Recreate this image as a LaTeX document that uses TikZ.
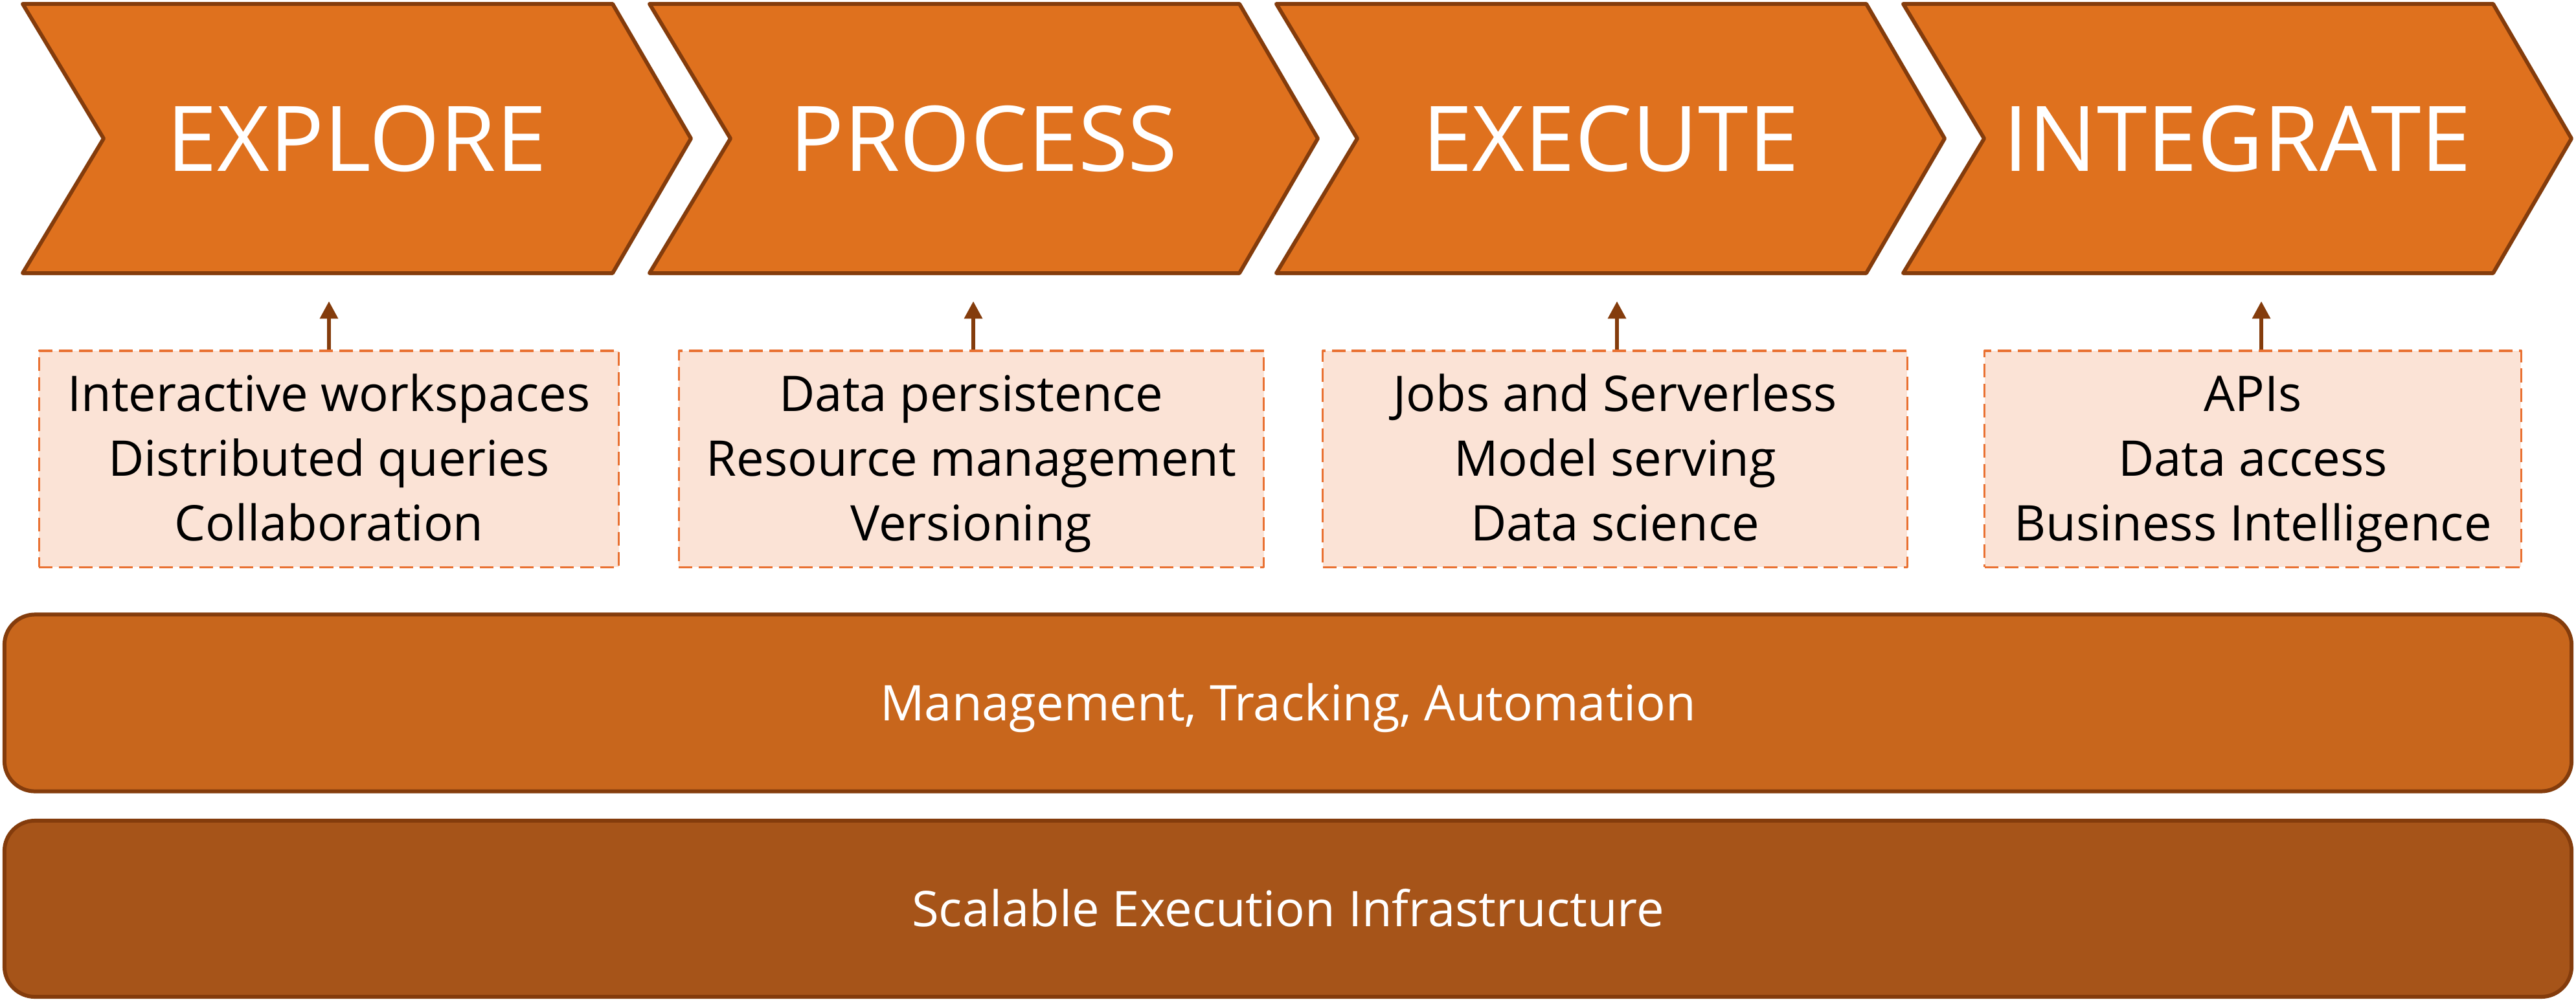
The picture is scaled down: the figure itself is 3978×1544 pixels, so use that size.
\documentclass[tikz,border=0pt]{standalone}
\usepackage{fontspec}
\setmainfont{Open Sans}
\usetikzlibrary{arrows.meta}
\definecolor{chevfill}{HTML}{DF711E}
\definecolor{darkline}{HTML}{843C0C}
\definecolor{barone}{HTML}{C8661C}
\definecolor{bartwo}{HTML}{A65419}
\definecolor{featfill}{HTML}{FBE3D6}
\definecolor{featline}{HTML}{E97132}
\begin{document}
\begin{tikzpicture}[x=0.01cm,y=-0.01cm,line join=round,>={Triangle[length=0.27cm,width=0.27cm]}]
            \tikzset{title style/.style={text=white,font=\fontsize{39.8}{46}\selectfont},
                feature/.style={draw=featline,fill=featfill,line width=0.9pt,dash pattern=on 6pt off 2.8pt,
                    minimum height=3.34cm,align=center,inner sep=0pt,font=\fontsize{21.6}{28.45}\selectfont},
                layer/.style={draw=darkline,line width=1.7pt,rounded corners=0.47cm,minimum width=39.62cm,
                    text=white,text height=15.4pt,text depth=0pt,font=\fontsize{21.6}{26}\selectfont}}
            %% chevron dimensions
            \def \pitch{968}
            \def \body{911}
            \def \tip{121}
            \def \ls{\rule[-6.2pt]{0pt}{27.2pt}}
            \useasboundingbox (0,0) rectangle (3978,1544);
            \foreach \name [count=\i from 0] in {EXPLORE,PROCESS,EXECUTE,INTEGRATE} {
                \pgfmathsetmacro{\L}{35+\pitch*\i}
                \draw[darkline,fill=chevfill,line width=1.7pt] (\L,6) -- ++(\body,0) -- ++(\tip,208) -- ++(-\tip,208)
                    -- (\L,422) -- ++(125,-208) -- cycle;
                \node[title style] (c\i) at (\L+516,214) {\name};
            }
            \node[feature,minimum width=8.95cm] (b0) at (508,709) {\ls Interactive workspaces\\\ls Distributed queries\\\ls Collaboration};
            \node[feature,minimum width=9.03cm] (b1) at (1500,709) {\ls Data persistence\\\ls Resource management\\\ls Versioning};
            \node[feature,minimum width=9.02cm] (b2) at (2494,709) {\ls Jobs and Serverless\\\ls Model serving\\\ls Data science};
            \node[feature,minimum width=8.28cm] (b3) at (3479,709) {\ls APIs\\\ls Data access\\\ls Business Intelligence};
            \foreach \i/\dx in {0/0,1/3,2/3,3/13} \draw[->,darkline,line width=1.8pt] (b\i.north) ++(\dx,0) -- ++(0,-75);
            \node[layer,fill=barone,minimum height=2.73cm] (mgmt) at (1989,1086) {Management, Tracking, Automation};
            \node[layer,fill=bartwo,minimum height=2.72cm] (infra) at (1989,1404) {Scalable Execution Infrastructure};
        \end{tikzpicture}
\end{document}
